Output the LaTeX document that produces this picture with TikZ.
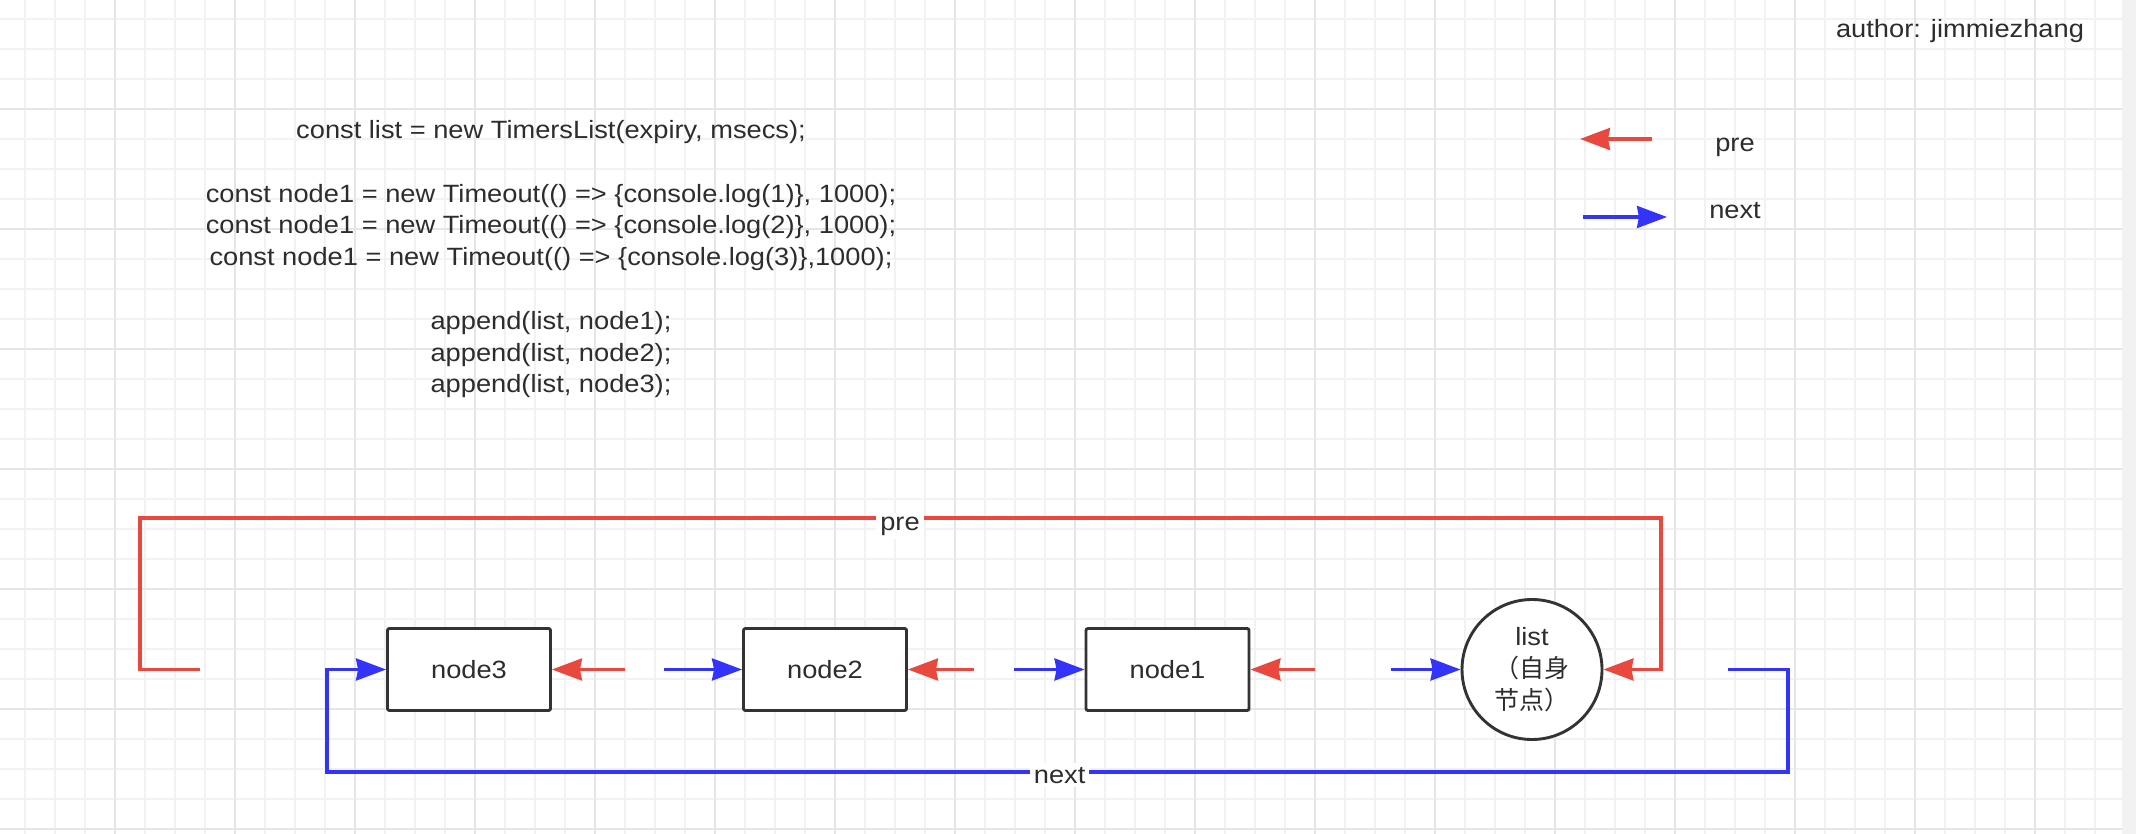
\documentclass[tikz,border=0pt]{standalone}
\usepackage{fontspec}
\setmainfont[FakeStretch=1.09]{Liberation Sans}
\newfontfamily\cjk{Noto Sans CJK SC}
\usetikzlibrary{arrows.meta}
\definecolor{txt}{RGB}{45,45,45}
\definecolor{prered}{RGB}{232,72,61}
\definecolor{nextblue}{RGB}{51,51,250}
\definecolor{gridminor}{RGB}{242,242,242}
\definecolor{gridmajor}{RGB}{230,230,230}
\definecolor{sidebar}{RGB}{242,242,242}
\definecolor{border}{RGB}{51,51,51}
\begin{document}
\begin{tikzpicture}[x=0.5pt,y=-0.5pt,
  txtfont/.style={font=\fontsize{12.5pt}{15.9pt}\selectfont, text=txt},
  codeline/.style={txtfont, anchor=base, inner sep=0pt},
  nodebox/.style={draw=border, line width=1.45pt, rounded corners=1pt, fill=white,
    minimum width=81.5pt, minimum height=41pt, inner sep=0pt, txtfont},
  listcircle/.style={draw=border, line width=1.45pt, circle, fill=white,
    minimum size=70pt, inner sep=0pt, align=center,
    font=\fontsize{12.5pt}{16.1pt}\selectfont, text=txt},
  tipstyle/.style={-{Stealth[length=15pt,width=11pt,inset=1pt]}},
  preline/.style={draw=prered, line width=1.6pt, tipstyle},
  nextline/.style={draw=nextblue, line width=1.6pt, tipstyle},
  lbl/.style={txtfont, fill=white, inner sep=2pt, anchor=base},
  gminor/.style={draw=gridminor, line width=1pt},
  gmajor/.style={draw=gridmajor, line width=1pt}
]
\useasboundingbox (0,0) rectangle (2136,834);
% background and grid
\fill[white] (0,0) rectangle (2122,834);
\fill[sidebar] (2122,0) rectangle (2136,834);
\foreach \x in {25,55,...,2095} \draw[gminor] (\x,0) -- (\x,834);
\foreach \y in {19,49,...,829} \draw[gminor] (0,\y) -- (2122,\y);
\foreach \x in {115,235,...,2035} \draw[gmajor] (\x,0) -- (\x,834);
\foreach \y in {109,229,...,829} \draw[gmajor] (0,\y) -- (2122,\y);

% author
\node[codeline] (author) at (1960,37.7) {author: jimmiezhang};

% code text
\node[codeline] (c1) at (551,138.5) {const list = new TimersList(expiry, msecs);};
\node[codeline] (c2) at (551,202.1) {const node1 = new Timeout(() => \{console.log(1)\}, 1000);};
\node[codeline] (c3) at (551,233.9) {const node1 = new Timeout(() => \{console.log(2)\}, 1000);};
\node[codeline] (c4) at (551,265.7) {const node1 = new Timeout(() => \{console.log(3)\},1000);};
\node[codeline] (c5) at (551,329.3) {append(list, node1);};
\node[codeline] (c6) at (551,361.1) {append(list, node2);};
\node[codeline] (c7) at (551,392.9) {append(list, node3);};

% legend
\coordinate (lr0) at (1652,139);
\coordinate (lr1) at (1580,139);
\draw[preline] (lr0) -- (lr1);
\node[codeline] (legpre) at (1735,152) {pre};
\coordinate (lb0) at (1583,217);
\coordinate (lb1) at (1667,217);
\draw[nextline] (lb0) -- (lb1);
\node[codeline] (legnext) at (1735,218.3) {next};

% nodes
\node[nodebox] (node3) at (469,669.5) {node3};
\node[nodebox] (node2) at (825,669.5) {node2};
\node[nodebox] (node1) at (1167.5,669.5) {node1};
\node[listcircle] (list) at (1532,669.5) {list\\{\cjk （自身}\\{\cjk 节点）}};

% short connectors
\coordinate (r3) at (625,669.5);
\coordinate (b2) at (664,669.5);
\coordinate (r2) at (974,669.5);
\coordinate (b1) at (1014,669.5);
\coordinate (r1) at (1315,669.5);
\coordinate (bl) at (1391,669.5);
\draw[preline] (r3) -- (node3.east);
\draw[nextline] (b2) -- (node2.west);
\draw[preline] (r2) -- (node2.east);
\draw[nextline] (b1) -- (node1.west);
\draw[preline] (r1) -- (node1.east);
\draw[nextline] (bl) -- (list.west);

% loops
\coordinate (rs) at (200,669.5);
\draw[preline] (rs) -- (140,669.5) |- (1661,518) |- (list.east);
\node[lbl] (prelbl) at (900,530) {pre};
\coordinate (bs) at (1728,669.5);
\draw[nextline] (bs) -- (1788,669.5) |- (327,772) |- (node3.west);
\node[lbl] (nextlbl) at (1059.6,783) {next};
\end{tikzpicture}
\end{document}
